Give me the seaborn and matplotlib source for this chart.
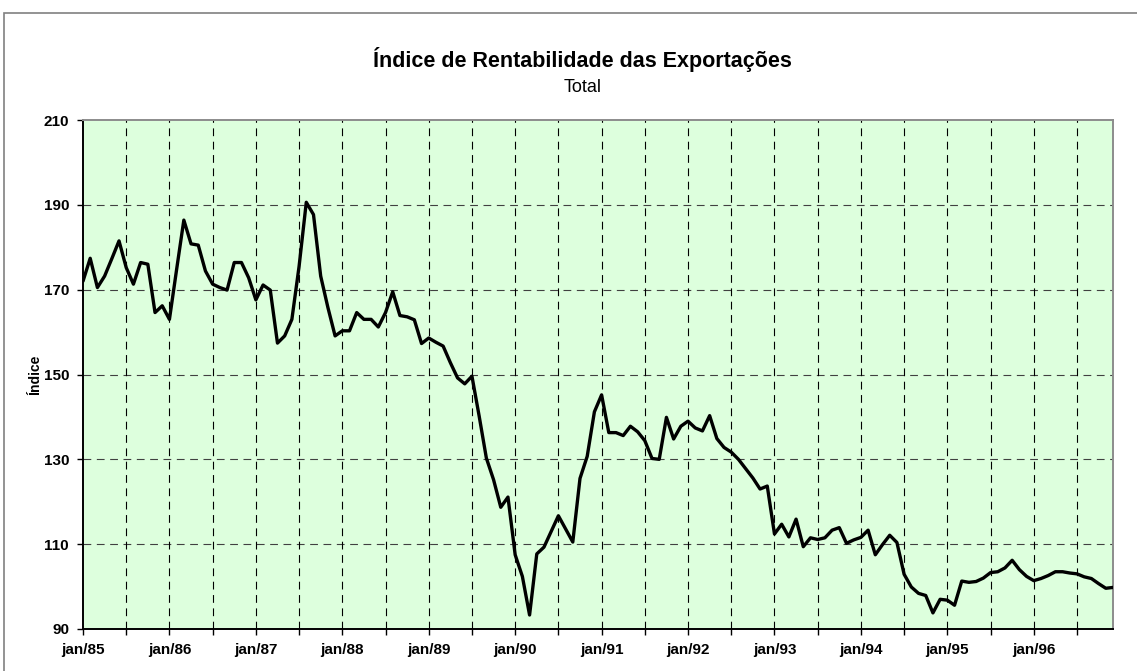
import numpy as np
import pandas as pd
import matplotlib
matplotlib.use("Agg")
import matplotlib.pyplot as plt
from matplotlib.patches import Rectangle
import seaborn as sns

# monthly index, jan/85 .. dez/96
indice = [
    172.0, 177.4, 170.5, 173.2, 177.3, 181.5, 175.2, 171.3, 176.4, 176.0, 164.6, 166.2,
    163.0, 174.8, 186.4, 180.8, 180.5, 174.4, 171.3, 170.5, 169.9, 176.4, 176.4, 172.8,
    167.6, 171.1, 169.9, 157.4, 159.1, 163.0, 175.5, 190.6, 187.7, 173.2, 165.8, 159.1,
    160.3, 160.3, 164.6, 163.0, 163.0, 161.2, 164.6, 169.5, 163.9, 163.6, 162.9, 157.3,
    158.6, 157.6, 156.7, 152.8, 149.2, 147.8, 149.6, 140.2, 130.3, 125.2, 118.7, 121.1,
    107.5, 102.4, 93.3, 107.7, 109.3, 113.0, 116.7, 113.6, 110.5, 125.5, 130.7, 141.2,
    145.2, 136.3, 136.3, 135.6, 137.8, 136.5, 134.4, 130.2, 130.0, 139.9, 134.8, 137.8,
    139.0, 137.4, 136.7, 140.3, 134.9, 132.8, 131.7, 130.0, 127.8, 125.6, 123.0, 123.7,
    112.4, 114.7, 111.7, 115.9, 109.4, 111.5, 111.1, 111.5, 113.3, 113.9, 110.2, 111.0,
    111.6, 113.3, 107.5, 109.9, 112.1, 110.4, 102.9, 99.9, 98.4, 97.9, 93.8, 97.0,
    96.8, 95.6, 101.3, 101.0, 101.2, 102.0, 103.3, 103.5, 104.4, 106.2, 104.0, 102.4,
    101.4, 101.9, 102.6, 103.5, 103.5, 103.2, 103.0, 102.3, 101.9, 100.7, 99.6, 99.8,
]
anos = ["85", "86", "87", "88", "89", "90", "91", "92", "93", "94", "95", "96"]
tick_labels = ["jan/" + a for a in anos]
y_ticks = [90, 110, 130, 150, 170, 190, 210]

df = pd.DataFrame({"mes": np.arange(len(indice)), "indice": indice})

sns.set_style("white")
plt.rcParams["font.family"] = ["Liberation Sans", "DejaVu Sans"]
for k in ["text.color", "axes.labelcolor", "xtick.color", "ytick.color"]:
    plt.rcParams[k] = "black"

fig = plt.figure(figsize=(11.37, 6.71), dpi=100)
ax = fig.add_axes([83 / 1137, 1 - 629 / 671, (1113 - 83) / 1137, (629 - 120) / 671])
ax.set_facecolor("#DDFFDD")

# outer chart frame (runs off the right/bottom of the picture)
fig.add_artist(Rectangle((4 / 1137, -0.1), 1.2, 0.1 + 1 - 13 / 671,
                         transform=fig.transFigure, fill=False,
                         edgecolor="#808080", linewidth=1.2))

sns.lineplot(data=df, x="mes", y="indice", ax=ax, color="black",
             linewidth=2.4, zorder=3)

ax.set_xlim(0, len(indice) - 1)
ax.set_ylim(90, 210)
ax.set_yticks(y_ticks)
ax.set_yticklabels([str(v) for v in y_ticks], fontsize=11, fontweight="bold")
ax.set_xticks(np.arange(0, len(indice), 12))
ax.set_xticklabels(tick_labels, fontsize=11, fontweight="bold")
ax.set_xticks(np.arange(6, len(indice), 12), minor=True)

ax.tick_params(axis="both", which="both", direction="out", length=4,
               width=1, color="black", left=True, bottom=True)
ax.tick_params(axis="y", pad=6)
ax.tick_params(axis="x", pad=6)

dash = (0, (7, 5))
for v in y_ticks[1:-1]:
    ax.axhline(v, color="#404040", linewidth=0.8, linestyle=dash, zorder=1)
for m in range(6, len(indice), 6):
    ax.axvline(m, color="black", linewidth=0.8, linestyle=dash, zorder=1)

for side in ["left", "bottom"]:
    ax.spines[side].set_color("black")
    ax.spines[side].set_linewidth(1.4)
for side in ["top", "right"]:
    ax.spines[side].set_color("#8c8c8c")
    ax.spines[side].set_linewidth(1.4)

ax.set_xlabel("")
ax.set_ylabel("Índice", fontsize=10, fontweight="bold", labelpad=1)

fig.text(0.512, 1 - 60 / 671, "Índice de Rentabilidade das Exportações",
         ha="center", va="center", fontsize=15.5, fontweight="bold")
fig.text(0.512, 1 - 88 / 671, "Total", ha="center", va="center", fontsize=13)

fig.savefig("out.png", dpi=100, facecolor="white")
